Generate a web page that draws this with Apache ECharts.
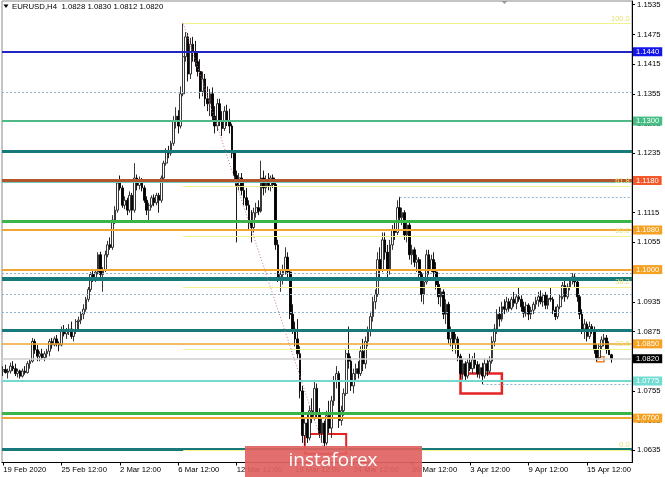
<!DOCTYPE html>
<html><head><meta charset="utf-8">
<script src="https://cdn.jsdelivr.net/npm/echarts@6/dist/echarts.min.js"></script>
<style>html,body{margin:0;padding:0;background:#fff}#c{width:665px;height:477px}</style>
</head><body><div id="c"></div>
<script>
// ---------------- DATA ----------------
const SYMBOL = 'EURUSD,H4';
const SLOT_COUNT = 259; // visible bar slots (incl. right shift space)
const opens = [
1.0795,1.0798,1.0792,1.0795,1.0805,1.0800,1.0790,1.0795,1.0785,1.0795,
1.0792,1.0810,1.0815,1.0855,1.0838,1.0825,1.0830,1.0822,1.0830,1.0835,
1.0855,1.0848,1.0860,1.0850,1.0848,1.0878,1.0870,1.0875,1.0880,1.0865,
1.0875,1.0895,1.0898,1.0910,1.0920,1.0940,1.0960,1.0990,1.0980,1.0995,
1.1030,1.0990,1.1000,1.1030,1.1050,1.1045,1.1100,1.1120,1.1175,1.1165,
1.1130,1.1140,1.1120,1.1150,1.1120,1.1185,1.1170,1.1180,1.1165,1.1140,
1.1120,1.1130,1.1145,1.1135,1.1150,1.1140,1.1185,1.1215,1.1240,1.1235,
1.1255,1.1300,1.1310,1.1290,1.1355,1.1430,1.1470,1.1395,1.1455,1.1440,
1.1420,1.1400,1.1360,1.1385,1.1345,1.1335,1.1355,1.1310,1.1290,1.1335,
1.1300,1.1285,1.1320,1.1300,1.1290,1.1235,1.1190,1.1170,1.1185,1.1160,
1.1145,1.1130,1.1095,1.1085,1.1115,1.1125,1.1118,1.1185,1.1165,1.1180,
1.1170,1.1185,1.1172,1.1050,1.0985,1.0990,1.1000,1.1025,1.0995,1.0910,
1.0880,1.0860,1.0830,1.0755,1.0665,1.0690,1.0660,1.0715,1.0700,1.0760,
1.0710,1.0670,1.0690,1.0650,1.0705,1.0680,1.0735,1.0775,1.0790,1.0695,
1.0715,1.0750,1.0830,1.0815,1.0765,1.0790,1.0800,1.0790,1.0835,1.0810,
1.0855,1.0875,1.0905,1.0935,1.0950,1.1020,1.1000,1.1060,1.1035,1.1000,
1.1050,1.1080,1.1075,1.1125,1.1105,1.1115,1.1070,1.1090,1.1030,1.1040,
1.1015,1.1020,1.0990,1.0950,1.0975,1.1030,1.1000,1.1020,1.0995,1.0970,
1.0945,1.0955,1.0910,1.0930,1.0860,1.0875,1.0850,1.0860,1.0825,1.0790,
1.0810,1.0785,1.0812,1.0800,1.0818,1.0808,1.0790,1.0802,1.0785,1.0810,
1.0795,1.0815,1.0855,1.0880,1.0910,1.0900,1.0925,1.0920,1.0935,1.0922,
1.0940,1.0932,1.0945,1.0940,1.0925,1.0912,1.0928,1.0910,1.0918,1.0930,
1.0938,1.0945,1.0935,1.0948,1.0928,1.0942,1.0940,1.0918,1.0905,1.0925,
1.0945,1.0968,1.0945,1.0965,1.0978,1.0985,1.0975,1.0945,1.0910,1.0880,
1.0890,1.0865,1.0885,1.0878,1.0838,1.0822,1.0845,1.0858,1.0862,1.0838,
1.0828];
const highs = [
1.0805,1.0808,1.0800,1.0812,1.0815,1.0810,1.0800,1.0798,1.0800,1.0805,
1.0815,1.0818,1.0862,1.0860,1.0848,1.0835,1.0840,1.0835,1.0840,1.0860,
1.0862,1.0865,1.0868,1.0855,1.0885,1.0888,1.0882,1.0890,1.0895,1.0880,
1.0900,1.0905,1.0915,1.0930,1.0945,1.0965,1.0995,1.0998,1.1000,1.1035,
1.1036,1.1005,1.1038,1.1058,1.1065,1.1110,1.1128,1.1182,1.1190,1.1170,
1.1148,1.1145,1.1158,1.1155,1.1215,1.1192,1.1188,1.1185,1.1170,1.1148,
1.1135,1.1150,1.1152,1.1155,1.1155,1.1190,1.1220,1.1245,1.1250,1.1260,
1.1310,1.1328,1.1322,1.1370,1.1497,1.1480,1.1478,1.1468,1.1470,1.1462,
1.1440,1.1425,1.1400,1.1395,1.1370,1.1365,1.1368,1.1330,1.1345,1.1345,
1.1320,1.1330,1.1333,1.1325,1.1295,1.1240,1.1200,1.1195,1.1195,1.1175,
1.1165,1.1140,1.1120,1.1125,1.1135,1.1140,1.1220,1.1200,1.1190,1.1195,
1.1190,1.1192,1.1178,1.1060,1.1000,1.1010,1.1045,1.1035,1.1000,1.0930,
1.0895,1.0900,1.0845,1.0765,1.0700,1.0710,1.0725,1.0740,1.0775,1.0770,
1.0720,1.0700,1.0695,1.0715,1.0735,1.0745,1.0785,1.0805,1.0795,1.0725,
1.0760,1.0840,1.0885,1.0825,1.0800,1.0810,1.0815,1.0845,1.0860,1.0865,
1.0885,1.0915,1.0945,1.0960,1.1035,1.1045,1.1075,1.1075,1.1050,1.1060,
1.1090,1.1100,1.1140,1.1147,1.1125,1.1120,1.1100,1.1095,1.1050,1.1045,
1.1030,1.1025,1.0995,1.0985,1.1040,1.1040,1.1030,1.1035,1.1015,1.0980,
1.0965,1.0960,1.0940,1.0935,1.0885,1.0880,1.0870,1.0865,1.0830,1.0820,
1.0815,1.0820,1.0830,1.0825,1.0832,1.0815,1.0810,1.0812,1.0820,1.0818,
1.0825,1.0865,1.0890,1.0920,1.0925,1.0935,1.0940,1.0945,1.0942,1.0945,
1.0955,1.0950,1.0965,1.0948,1.0935,1.0935,1.0932,1.0925,1.0935,1.0945,
1.0955,1.0958,1.0952,1.0955,1.0950,1.0963,1.0945,1.0925,1.0930,1.0950,
1.0975,1.0978,1.0972,1.0985,1.0993,1.0992,1.0985,1.0950,1.0920,1.0900,
1.0895,1.0895,1.0890,1.0885,1.0850,1.0850,1.0865,1.0870,1.0868,1.0855,
1.0830];
const lows = [
1.0785,1.0790,1.0780,1.0790,1.0795,1.0785,1.0782,1.0780,1.0782,1.0788,
1.0790,1.0800,1.0812,1.0830,1.0815,1.0815,1.0818,1.0815,1.0822,1.0825,
1.0840,1.0845,1.0845,1.0835,1.0845,1.0865,1.0860,1.0868,1.0860,1.0855,
1.0870,1.0880,1.0890,1.0900,1.0915,1.0935,1.0955,1.0975,1.0975,1.0990,
1.0985,1.0955,1.0995,1.1025,1.1040,1.1040,1.1092,1.1115,1.1160,1.1125,
1.1122,1.1110,1.1115,1.1098,1.1115,1.1160,1.1162,1.1158,1.1135,1.1110,
1.1098,1.1125,1.1128,1.1130,1.1115,1.1135,1.1180,1.1210,1.1225,1.1230,
1.1250,1.1285,1.1275,1.1285,1.1350,1.1420,1.1380,1.1385,1.1420,1.1410,
1.1390,1.1345,1.1350,1.1330,1.1320,1.1310,1.1300,1.1275,1.1280,1.1290,
1.1270,1.1280,1.1290,1.1275,1.1225,1.1180,1.1055,1.1160,1.1150,1.1130,
1.1120,1.1080,1.1055,1.1075,1.1105,1.1110,1.1115,1.1150,1.1155,1.1160,
1.1158,1.1165,1.1040,1.0975,1.0955,1.0970,1.0990,1.0985,1.0900,1.0870,
1.0845,1.0820,1.0740,1.0650,1.0645,1.0650,1.0655,1.0690,1.0695,1.0700,
1.0660,1.0650,1.0636,1.0645,1.0670,1.0660,1.0725,1.0760,1.0680,1.0685,
1.0705,1.0745,1.0800,1.0755,1.0750,1.0775,1.0780,1.0785,1.0795,1.0800,
1.0845,1.0865,1.0895,1.0920,1.0945,1.0985,1.0995,1.1020,1.0985,1.0990,
1.1040,1.1060,1.1070,1.1095,1.1090,1.1060,1.1055,1.1020,1.1010,1.1005,
1.0995,1.0980,1.0935,1.0930,1.0970,1.0990,1.0995,1.0985,1.0960,1.0930,
1.0925,1.0900,1.0890,1.0850,1.0845,1.0835,1.0830,1.0815,1.0780,1.0778,
1.0775,1.0780,1.0795,1.0790,1.0800,1.0782,1.0780,1.0769,1.0780,1.0785,
1.0790,1.0810,1.0845,1.0870,1.0885,1.0895,1.0910,1.0915,1.0915,1.0918,
1.0925,1.0920,1.0935,1.0915,1.0903,1.0905,1.0898,1.0900,1.0910,1.0920,
1.0925,1.0930,1.0925,1.0920,1.0920,1.0935,1.0910,1.0898,1.0900,1.0920,
1.0940,1.0935,1.0940,1.0958,1.0970,1.0965,1.0935,1.0900,1.0870,1.0860,
1.0855,1.0860,1.0870,1.0830,1.0815,1.0818,1.0838,1.0845,1.0830,1.0828,
1.0812];
const closes = [
1.0798,1.0792,1.0795,1.0805,1.0800,1.0790,1.0795,1.0785,1.0795,1.0792,
1.0810,1.0815,1.0855,1.0838,1.0825,1.0830,1.0822,1.0830,1.0835,1.0855,
1.0848,1.0860,1.0850,1.0848,1.0878,1.0870,1.0875,1.0880,1.0865,1.0875,
1.0895,1.0898,1.0910,1.0920,1.0940,1.0960,1.0990,1.0980,1.0995,1.1030,
1.0990,1.1000,1.1030,1.1050,1.1045,1.1100,1.1120,1.1175,1.1165,1.1130,
1.1140,1.1120,1.1150,1.1120,1.1185,1.1170,1.1180,1.1165,1.1140,1.1120,
1.1130,1.1145,1.1135,1.1150,1.1140,1.1185,1.1215,1.1240,1.1235,1.1255,
1.1300,1.1310,1.1290,1.1355,1.1430,1.1470,1.1395,1.1455,1.1440,1.1420,
1.1400,1.1360,1.1385,1.1345,1.1335,1.1355,1.1310,1.1290,1.1335,1.1300,
1.1285,1.1320,1.1300,1.1290,1.1235,1.1190,1.1170,1.1185,1.1160,1.1145,
1.1130,1.1095,1.1085,1.1115,1.1125,1.1118,1.1185,1.1165,1.1180,1.1170,
1.1185,1.1172,1.1050,1.0985,1.0990,1.1000,1.1025,1.0995,1.0910,1.0880,
1.0860,1.0830,1.0755,1.0665,1.0690,1.0660,1.0715,1.0700,1.0760,1.0710,
1.0670,1.0690,1.0650,1.0705,1.0680,1.0735,1.0775,1.0790,1.0695,1.0715,
1.0750,1.0830,1.0815,1.0765,1.0790,1.0800,1.0790,1.0835,1.0810,1.0855,
1.0875,1.0905,1.0935,1.0950,1.1020,1.1000,1.1060,1.1035,1.1000,1.1050,
1.1080,1.1075,1.1125,1.1105,1.1115,1.1070,1.1090,1.1030,1.1040,1.1015,
1.1020,1.0990,1.0950,1.0975,1.1030,1.1000,1.1020,1.0995,1.0970,1.0945,
1.0955,1.0910,1.0930,1.0860,1.0875,1.0850,1.0860,1.0825,1.0790,1.0810,
1.0785,1.0812,1.0800,1.0818,1.0808,1.0790,1.0802,1.0785,1.0810,1.0795,
1.0815,1.0855,1.0880,1.0910,1.0900,1.0925,1.0920,1.0935,1.0922,1.0940,
1.0932,1.0945,1.0940,1.0925,1.0912,1.0928,1.0910,1.0918,1.0930,1.0938,
1.0945,1.0935,1.0948,1.0928,1.0942,1.0940,1.0918,1.0905,1.0925,1.0945,
1.0968,1.0945,1.0965,1.0978,1.0985,1.0975,1.0945,1.0910,1.0880,1.0890,
1.0865,1.0885,1.0878,1.0838,1.0822,1.0845,1.0858,1.0862,1.0838,1.0828,
1.0820];

const xTickIndex  = [0, 24, 48, 72, 96, 120, 144, 168, 192, 216, 240];
const xTickLabels = ['19 Feb 2020','25 Feb 12:00','2 Mar 12:00','6 Mar 12:00','12 Mar 12:00','18 Mar 12:00','24 Mar 12:00','30 Mar 12:00','3 Apr 12:00','9 Apr 12:00','15 Apr 12:00'];
const yTicks = [1.0635,1.0695,1.0755,1.0815,1.0875,1.0935,1.0995,1.1055,1.1115,1.1175,1.1235,1.1295,1.1355,1.1415,1.1475,1.1535];

// levels with a price box on the axis
const boxLevels = [1.1440, 1.1300, 1.1180, 1.1080, 1.1000, 1.0850, 1.0775, 1.0700];
// thick levels without a box
const plainLevels = [1.1240, 1.1177, 1.1098, 1.0982, 1.0878, 1.0710, 1.0637];
// dotted full-width levels
const dottedLevels = [1.1358, 1.0993, 1.0951, 1.0913];
// dotted levels starting at a bar
const dottedFromBar = [163, 197];
const dottedFromVal = [1.1147, 1.0769];
const lastPrice = 1.0820;
// Fibonacci retracement
const fibFromBar = 74, fibToBar = 132;
const fibLevels = [1.1497, 1.1168, 1.1067, 1.0965, 1.0839, 1.0636];
const fibLabels = ['100.0', '61.8', '50.0', '38.2', '23.6', '0.0'];
// rectangles [barFrom, barTo, priceTop, priceBottom]
const rectBars   = [[124, 141], [188, 205], [244, 247]];
const rectPrices = [[1.0668, 1.0628], [1.0790, 1.0750], [1.0824, 1.0814]];

// ---------------- STYLES ----------------
const FONT = 'Liberation Sans';
const boxStyles = [
  {line:'#2125c4', w:2,   bg:'#1414ec'},
  {line:'#4fb886', w:2,   bg:'#45bd84'},
  {line:'#b3552c', w:3,   bg:'#f2582a'},
  {line:'#f0a535', w:2,   bg:'#f5a122'},
  {line:'#f0a535', w:2,   bg:'#f5a122'},
  {line:'#f0a535', w:1.5, bg:'#f5a122'},
  {line:'#74d8cf', w:2,   bg:'#70dcd2'},
  {line:'#f0a535', w:2,   bg:'#f5a122'}
];
const plainStyles = [
  {line:'#17797a', w:3},
  {line:'#6fcac4', w:1},
  {line:'#3bb54a', w:3},
  {line:'#17797a', w:4},
  {line:'#17797a', w:3},
  {line:'#3bb54a', w:3},
  {line:'#17797a', w:3}
];
const rectStyles = [
  {c:'#e42424', w:2},
  {c:'#e42424', w:2.5},
  {c:'#f0802c', w:1.5}
];

const cats = Array.from({length: SLOT_COUNT}, (_, i) => String(i));
const candleData = closes.map((c, i) => [opens[i], c, lows[i], highs[i]]);
const f4 = v => Number(v).toFixed(4);

const lineMarks = [];
plainLevels.forEach((v, i) => lineMarks.push({yAxis: v, lineStyle: {color: plainStyles[i].line, width: plainStyles[i].w, type: 'solid'}, label: {show: false}}));
dottedLevels.forEach(v => lineMarks.push({yAxis: v, lineStyle: {color: '#8db3cf', width: 1, type: [2, 2]}, label: {show: false}}));
dottedFromBar.forEach((b, i) => lineMarks.push([{coord: [b, dottedFromVal[i]], lineStyle: {color: '#8db3cf', width: 1, type: [2, 2]}, label: {show: false}}, {coord: [SLOT_COUNT - 1, dottedFromVal[i]]}]));
fibLevels.forEach((v, i) => lineMarks.push([{coord: [fibFromBar, v], lineStyle: {color: '#f2f28c', width: 1, type: 'solid'},
  label: {show: true, position: 'insideEndTop', formatter: fibLabels[i], color: '#e6e27a', fontSize: 7.5, fontFamily: FONT, distance: 1}}, {coord: [SLOT_COUNT - 1, v]}]));
lineMarks.push({yAxis: lastPrice, lineStyle: {color: '#cfcfcf', width: 1.5, type: 'solid'},
  label: {show: true, position: 'end', distance: 1, formatter: f4(lastPrice), backgroundColor: '#000', color: '#fff', padding: [1, 3, 0, 3], fontSize: 7.6, fontFamily: FONT}});
boxLevels.forEach((v, i) => lineMarks.push({yAxis: v, lineStyle: {color: boxStyles[i].line, width: boxStyles[i].w, type: 'solid'},
  label: {show: true, position: 'end', distance: 1, formatter: f4(v), backgroundColor: boxStyles[i].bg, color: '#fff', padding: [1, 3, 0, 3], fontSize: 7.6, fontFamily: FONT}}));
lineMarks.push([{coord: [fibFromBar, fibLevels[0]], lineStyle: {color: '#c97878', width: 1, type: [1, 2]}, label: {show: false}}, {coord: [fibToBar, fibLevels[fibLevels.length - 1]]}]);

const areaMarks = rectBars.map((b, i) => [
  {coord: [b[0], rectPrices[i][0]], itemStyle: {color: 'rgba(0,0,0,0)', borderColor: rectStyles[i].c, borderWidth: rectStyles[i].w}},
  {coord: [b[1], rectPrices[i][1]]}
]);

const chart = echarts.init(document.getElementById('c'), null, {renderer: 'canvas'});
const legendText = SYMBOL + '  ' + [opens, highs, lows, closes].map(a => f4(a[a.length - 1])).join(' ');

chart.setOption({
  animation: false,
  backgroundColor: '#fff',
  grid: {left: 2, top: 1, width: 630, height: 461.5, show: true, borderColor: '#8a8a8a', borderWidth: 1},
  xAxis: {
    type: 'category', data: cats, boundaryGap: true,
    axisLine: {show: true, lineStyle: {color: '#000', width: 1}},
    axisTick: {show: true, alignWithLabel: true, length: 3, interval: (i) => xTickIndex.includes(i), lineStyle: {color: '#000'}},
    axisLabel: {show: true, interval: (i) => xTickIndex.includes(i), formatter: (v, i) => { const k = xTickIndex.indexOf(Number(v)); return k >= 0 ? xTickLabels[k] : ''; },
      align: 'left', color: '#000', fontSize: 7.7, fontFamily: FONT, margin: 3},
    splitLine: {show: false}
  },
  yAxis: {
    type: 'value', position: 'right', min: 1.06104, max: 1.15425, scale: true,
    axisLine: {show: true, lineStyle: {color: '#000', width: 1}},
    axisTick: {show: true, length: 3, customValues: yTicks, lineStyle: {color: '#000'}},
    axisLabel: {show: true, customValues: yTicks, formatter: v => f4(v), color: '#000', fontSize: 7.7, fontFamily: FONT, margin: 5},
    splitLine: {show: false}
  },
  series: [
    {type: 'candlestick', data: candleData, z: 2, barWidth: 2.2, silent: true,
     itemStyle: {color: '#ffffff', color0: '#000000', borderColor: '#222222', borderColor0: '#000000', borderWidth: 0.9}},
    {type: 'line', data: [], z: 4, silent: true,
     markLine: {silent: true, precision: 5, symbol: ['none', 'none'], animation: false, data: lineMarks}},
    {type: 'line', data: [], z: 5, silent: true,
     markArea: {silent: true, precision: 5, animation: false, data: areaMarks}}
  ],
  graphic: [
    {type: 'polygon', z: 50, shape: {points: [[3.5, 4.5], [8.5, 4.5], [6, 8]]}, style: {fill: '#000'}},
    {type: 'text', z: 50, left: 12, top: 2.5, style: {text: legendText, fill: '#000', font: '7.8px "Liberation Sans"'}},
    {type: 'polygon', z: 50, shape: {points: [[501.5, 1], [507.5, 1], [504.5, 4]]}, style: {fill: '#9a9a9a'}},
    {type: 'rect', z: 60, shape: {x: 245, y: 446, width: 177, height: 31}, style: {fill: 'rgba(224,98,98,0.92)'}},
    {type: 'text', z: 61, x: 333, y: 461, style: {text: 'instaforex', fill: '#fff', font: '19px "Open Sans"', align: 'center', verticalAlign: 'middle'}}
  ]
});
</script>
</body></html>
